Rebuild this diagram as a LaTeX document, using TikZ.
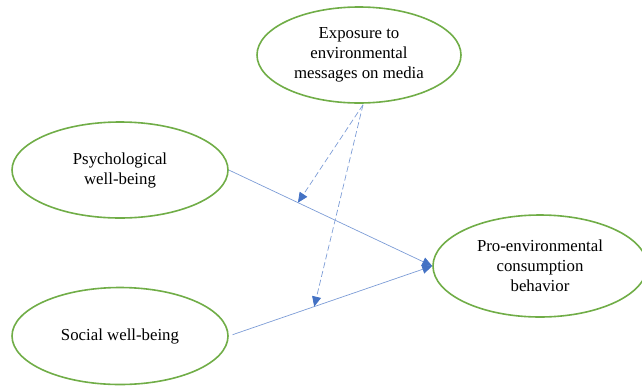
\documentclass[tikz,border=0pt]{standalone}
\usepackage{fontspec}
\setmainfont{Liberation Serif}
\usetikzlibrary{shapes.geometric, arrows.meta, calc}

\definecolor{ovalgreen}{HTML}{70AD47}
\definecolor{linkblue}{HTML}{4472C4}

\begin{document}
\begin{tikzpicture}[x=1pt, y=1pt, node distance=166pt]
% Styles
\tikzstyle{construct} = [ellipse, draw=ovalgreen, line width=1.6pt, inner sep=0pt, align=center, text centered, font=\fontsize{16.8}{20}\selectfont]
\tikzstyle{arrow} = [line width=0.7pt, draw=linkblue!70, -{Triangle[length=10pt, width=9pt, color=linkblue]}]
\tikzstyle{moderate} = [arrow, dash pattern=on 6pt off 3pt]

\useasboundingbox (0,0) rectangle (642,-386);

% Nodes
\node (psych) [construct, minimum width=216pt, minimum height=96pt] at (120,-170) {Psychological \\ well-being};
\node (social) [construct, minimum width=216pt, minimum height=97pt, below of=psych] {Social well-being};
\node (exposure) [construct, minimum width=204pt, minimum height=96pt] at (359,-55) {Exposure to \\ environmental \\ messages on media};
\node (peb) [construct, minimum width=214pt, minimum height=102pt] at (540,-266) {Pro-environmental \\ consumption \\ behavior};

% Arrows
\draw [arrow] (psych.east) -- coordinate[pos=0.34] (m1) (peb.west);
\draw [arrow, shorten <=4pt] (social.east) -- coordinate[pos=0.42] (m2) (peb.west);

% Moderation arrows
\coordinate (d1) at ($(exposure.south)+(4,-1)$);
\draw [moderate] (d1) -- (m1);
\draw [moderate] (d1) -- (m2);
\end{tikzpicture}
\end{document}
